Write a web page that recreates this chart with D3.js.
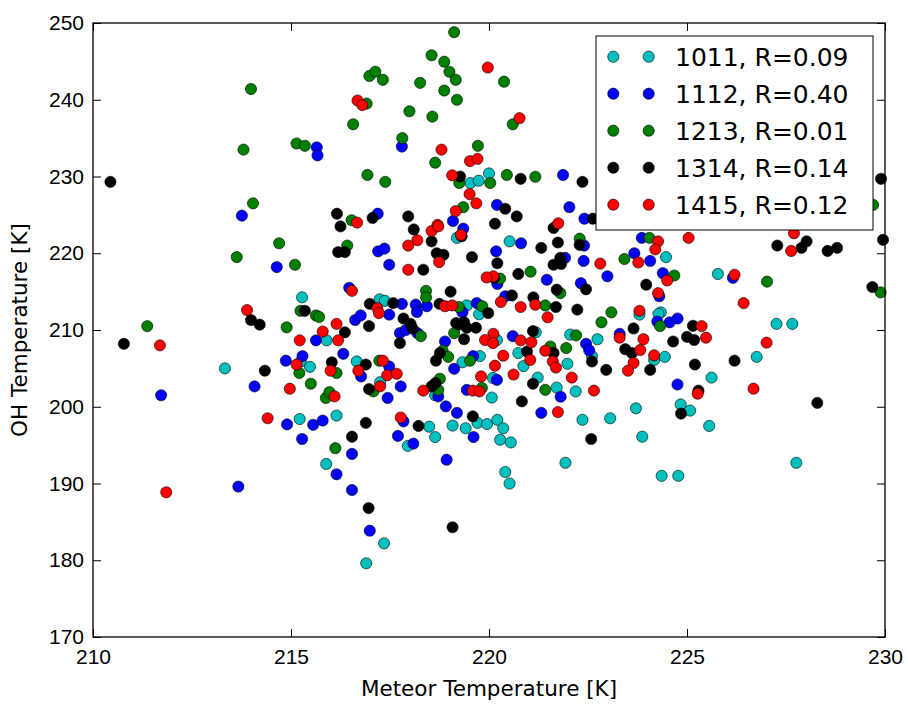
<!DOCTYPE html>
<html>
<head>
<meta charset="utf-8">
<script src="https://cdn.jsdelivr.net/npm/d3@7"></script>
<style>
  body { margin: 0; background: #fff; }
  svg { font-family: "DejaVu Sans", sans-serif; }
</style>
</head>
<body>
<svg class="scatter" width="908" height="704"></svg>
<script>
// Series labels and colours (matplotlib classic c, b, g, k, r)
const seriesNames = ['1011, R=0.09', '1112, R=0.40', '1213, R=0.01', '1314, R=0.14', '1415, R=0.12'];
const seriesColors = ['#00bfbf', '#0000ff', '#008000', '#000000', '#ff0000'];

// [meteor temperature, OH temperature] pairs
const s1011 = [
  [213.33,205.0],[215.28,214.25],[215.9,208.65],[215.89,192.55],[217.35,182.2],[216.9,179.6],
  [217.95,194.9],[218.64,196.05],[218.49,197.4],[219.08,197.55],[219.41,197.2],[219.71,197.9],
  [219.95,197.75],[220.21,198.3],[220.36,197.2],[220.28,195.7],[220.55,195.35],[223.87,196.1],
  [221.93,192.7],[220.41,191.5],[220.52,190.0],[224.36,191.0],[224.78,191.0],[227.76,192.7],
  [225.56,197.5],[225.08,199.5],[225.62,203.8],[226.76,206.5],[227.26,210.8],[227.66,210.8],
  [225.78,217.3],[224.47,219.5],[224.34,212.3],[224.28,212.1],[223.8,212.0],[222.05,209.4],
  [222.74,208.8],[222.6,206.6],[224.17,206.1],[224.44,206.5],[221.98,205.6],[222.19,202.0],
  [221.71,202.5],[221.23,203.8],[222.36,198.3],[223.06,198.5],[223.71,199.8],[224.84,200.3],
  [220.87,205.3],[220.07,201.2],[220.2,208.7],[220.52,221.55],[219.19,222.0],[219.53,229.15],
  [219.74,229.45],[220.0,230.4],[217.24,214.0],[217.37,213.8],[219.44,213.2],[219.75,212.05],
  [219.33,205.8],[219.77,206.6],[220.1,203.75],[218.64,201.5],[216.15,198.85],[215.22,198.4],
  [215.25,205.9],[215.48,205.2],[216.66,205.9],[217.25,203.2],[220.74,207.0],[221.18,209.7]
];
const s1112 = [
  [213.76,224.9],[215.65,233.8],[215.67,232.75],[217.8,233.9],[219.09,224.2],[219.35,223.2],
  [220.2,226.3],[217.19,225.15],[221.87,230.2],[222.03,226.0],[222.41,224.5],[214.64,218.2],
  [214.87,206.0],[214.08,202.65],[211.72,201.5],[214.9,197.7],[213.67,189.6],[215.28,195.8],
  [216.54,193.85],[216.15,191.2],[216.54,189.15],[216.99,183.85],[217.7,196.2],[218.09,195.2],
  [218.93,193.1],[219.61,196.05],[226.16,216.8],[220.81,221.3],[220.18,220.25],[220.21,216.0],
  [221.92,219.4],[221.46,216.55],[222.39,219.0],[222.32,216.1],[222.4,221.0],[222.99,217.0],
  [223.67,220.0],[224.07,219.0],[223.86,222.0],[224.39,217.4],[224.3,214.4],[224.25,211.1],
  [224.56,211.0],[224.76,211.5],[220.41,214.4],[220.6,209.2],[222.45,208.2],[222.53,207.35],
  [223.3,209.5],[221.81,201.3],[221.32,199.2],[224.76,202.9],[220.2,203.5],[217.2,220.25],
  [217.36,220.6],[217.48,218.5],[216.47,215.5],[215.63,208.65],[216.62,211.3],[216.76,211.9],
  [217.48,212.0],[217.8,213.4],[218.15,213.3],[218.18,212.35],[218.43,213.1],[217.75,209.6],
  [217.9,210.0],[218.19,209.6],[219.33,212.3],[219.69,213.5],[218.89,208.5],[219.12,204.95],
  [219.6,206.6],[219.44,202.2],[218.72,201.35],[218.91,200.05],[219.19,199.2],[217.84,198.1],
  [215.8,198.2],[215.56,197.65],[215.29,206.6],[216.77,203.95],[217.48,205.25],[217.44,201.15],
  [217.77,202.65],[216.32,206.9]
];
const s1213 = [
  [213.99,241.4],[213.8,233.5],[215.14,234.3],[215.35,234.0],[214.04,226.5],[219.12,248.8],
  [218.55,245.8],[218.87,244.96],[219.0,243.65],[219.16,242.6],[218.87,241.2],[219.19,240.0],
  [218.26,242.2],[216.98,243.1],[217.13,243.65],[217.32,242.6],[216.91,239.5],[217.99,238.5],
  [218.57,237.8],[216.57,236.8],[217.81,235.0],[219.72,234.0],[218.64,231.8],[219.25,229.15],
  [220.03,229.15],[216.93,230.2],[217.38,229.3],[219.35,226.0],[216.53,224.3],[220.38,242.35],
  [220.6,236.8],[220.45,230.2],[221.17,229.97],[229.7,226.3],[229.89,214.9],[214.7,221.3],
  [213.63,219.5],[215.1,218.5],[214.89,210.35],[211.37,210.5],[216.12,194.6],[227.02,216.3],
  [220.28,216.7],[221.05,217.6],[221.8,214.8],[222.29,221.9],[223.42,219.25],[224.05,222.0],
  [224.68,217.1],[224.32,210.5],[221.42,213.2],[223.09,212.3],[222.84,211.0],[222.2,209.3],
  [221.42,202.2],[221.55,207.85],[221.95,207.65],[216.42,221.0],[215.24,212.5],[215.63,211.9],
  [215.71,211.7],[218.41,215.1],[218.41,214.25],[218.28,209.2],[219.24,213.0],[219.83,213.1],
  [219.12,209.6],[218.83,207.3],[218.97,206.5],[219.52,206.0],[219.82,202.45],[218.76,203.65],
  [218.72,202.2],[215.21,204.4],[216.15,204.4],[215.5,203.0],[215.88,201.15],[215.97,201.9],
  [217.23,206.0],[217.08,202.0]
];
const s1314 = [
  [210.44,229.3],[219.27,230.0],[216.16,225.15],[216.25,223.5],[217.06,224.6],[217.96,224.8],
  [218.1,223.1],[220.15,223.85],[220.8,229.7],[222.36,229.3],[220.41,225.8],[220.7,224.8],
  [222.62,224.5],[221.63,223.3],[229.9,229.7],[213.99,211.3],[214.21,210.7],[210.78,208.2],
  [214.34,204.7],[216.54,196.1],[216.96,186.8],[219.08,184.3],[222.58,195.8],[227.28,221.0],
  [228.02,221.55],[227.89,220.7],[228.55,220.3],[228.79,220.7],[229.95,221.75],[229.68,215.6],
  [226.2,206.0],[228.29,200.5],[225.29,202.1],[225.15,210.55],[225.18,208.7],[225.2,205.5],
  [221.32,220.7],[221.74,221.4],[220.21,218.7],[220.74,217.3],[221.63,218.5],[221.8,219.4],
  [221.82,218.6],[221.71,215.25],[222.45,215.3],[222.29,221.1],[223.97,215.9],[220.58,214.5],
  [221.12,214.25],[221.69,213.0],[222.23,212.65],[223.65,210.2],[221.11,209.85],[222.6,205.9],
  [223.44,207.5],[223.61,207.0],[224.07,204.8],[224.65,208.5],[225.0,209.1],[222.96,204.8],
  [221.11,203.0],[220.83,200.7],[224.85,199.1],[220.96,207.2],[221.63,207.0],[218.55,221.55],
  [219.31,222.2],[218.68,220.0],[218.85,219.8],[219.57,219.5],[216.19,220.15],[216.36,220.15],
  [218.34,217.85],[220.13,216.8],[215.35,212.5],[216.36,209.7],[216.97,210.5],[216.99,213.4],
  [217.58,213.5],[217.84,211.5],[218.02,210.8],[218.07,210.2],[217.75,208.3],[219.03,215.0],
  [218.75,213.4],[219.98,212.2],[219.17,210.9],[219.37,211.0],[219.44,210.3],[219.24,210.7],
  [219.67,210.3],[219.37,208.8],[218.76,207.0],[218.66,206.0],[218.55,202.65],[218.65,203.1],
  [219.59,198.75],[218.22,197.5],[216.89,197.9],[216.03,205.8],[216.89,205.5],[216.97,202.3]
];
const s1415 = [
  [219.97,244.2],[216.68,239.9],[216.8,239.3],[218.8,233.5],[219.52,232.0],[219.71,232.3],
  [219.07,230.15],[219.51,227.7],[219.68,226.5],[219.16,225.5],[216.67,224.0],[218.7,223.7],
  [218.55,222.9],[220.77,237.6],[221.75,223.9],[213.89,212.6],[211.69,208.0],[214.97,202.35],
  [214.41,198.5],[211.85,188.85],[227.7,222.6],[227.63,220.3],[225.04,222.0],[226.2,217.2],
  [226.43,213.5],[227.01,208.35],[226.68,202.35],[225.27,201.7],[225.37,210.5],[225.48,209.0],
  [220.11,217.0],[222.81,218.65],[223.77,218.8],[224.27,221.55],[224.2,220.5],[224.5,216.45],
  [224.27,214.8],[220.3,213.65],[220.8,213.0],[221.17,213.3],[221.48,211.65],[223.8,212.5],
  [220.11,209.5],[220.8,208.65],[221.07,208.4],[223.3,209.0],[223.9,208.8],[223.82,207.4],
  [223.65,205.7],[223.51,204.7],[224.17,206.7],[222.09,203.8],[222.65,202.1],[221.74,199.3],
  [220.62,204.2],[221.04,206.1],[220.36,206.65],[220.15,205.35],[221.42,207.3],[221.61,205.9],
  [221.69,205.1],[218.72,223.5],[218.19,221.7],[217.96,221.0],[219.29,222.4],[218.74,218.85],
  [217.96,217.85],[219.94,216.85],[216.54,215.1],[216.15,210.8],[215.8,209.8],[215.22,208.65],
  [216.19,208.65],[217.18,212.85],[217.22,212.2],[218.89,213.1],[219.07,213.2],[219.9,208.7],
  [220.1,208.3],[219.8,203.95],[219.59,202.1],[219.76,202.0],[218.34,202.1],[217.77,198.6],
  [215.14,205.5],[216.0,204.7],[216.1,201.35],[216.7,204.7],[217.32,206.0],[217.43,204.1],
  [217.67,204.3],[217.25,202.65]
];
const allSeries = [s1011, s1112, s1213, s1314, s1415];

const xTicks = [210, 215, 220, 225, 230];
const yTicks = [170, 180, 190, 200, 210, 220, 230, 240, 250];

const svg = d3.select('.scatter');
const margin = { top: 23, right: 23, bottom: 67, left: 93 };
const width = 908 - margin.left - margin.right;
const height = 704 - margin.top - margin.bottom;

const xScale = d3.scaleLinear().domain([210, 230]).range([0, width]);
const yScale = d3.scaleLinear().domain([170, 250]).range([height, 0]);

const g = svg.append('g')
    .attr('transform', `translate(${margin.left}, ${margin.top})`);

// points, series drawn in order so later ones sit on top
allSeries.forEach((pts, i) => {
    g.append('g').selectAll('circle')
        .data(pts)
        .join('circle')
        .attr('cx', d => xScale(d[0]))
        .attr('cy', d => yScale(d[1]))
        .attr('r', 5.6)
        .attr('fill', seriesColors[i])
        .attr('stroke', '#000')
        .attr('stroke-width', 0.6);
});

// axes, ticks pointing inwards on all four sides
function styleAxis(sel, showText) {
    sel.select('.domain').remove();
    sel.selectAll('line').attr('stroke', '#000').attr('stroke-width', 1);
    sel.selectAll('text')
        .attr('fill', '#000')
        .style('font-size', '21px')
        .style('display', showText ? null : 'none');
}

g.append('g')
    .attr('transform', `translate(0, ${height})`)
    .call(d3.axisBottom(xScale).tickValues(xTicks).tickSize(-8).tickPadding(12).tickFormat(d3.format('d')))
    .call(s => styleAxis(s, true));
g.append('g')
    .call(d3.axisTop(xScale).tickValues(xTicks).tickSize(-8))
    .call(s => styleAxis(s, false));
g.append('g')
    .call(d3.axisLeft(yScale).tickValues(yTicks).tickSize(-8).tickPadding(9).tickFormat(d3.format('d')))
    .call(s => styleAxis(s, true));
g.append('g')
    .attr('transform', `translate(${width}, 0)`)
    .call(d3.axisRight(yScale).tickValues(yTicks).tickSize(-8))
    .call(s => styleAxis(s, false));

// frame
g.append('rect')
    .attr('width', width)
    .attr('height', height)
    .attr('fill', 'none')
    .attr('stroke', '#000')
    .attr('stroke-width', 1.3);

// axis labels
svg.append('text')
    .attr('x', margin.left + width / 2)
    .attr('y', 696)
    .attr('text-anchor', 'middle')
    .style('font-size', '21.5px')
    .text('Meteor Temperature [K]');
svg.append('text')
    .attr('transform', `translate(27, ${margin.top + height / 2}) rotate(-90)`)
    .attr('text-anchor', 'middle')
    .style('font-size', '21.5px')
    .text('OH Temperature [K]');

// legend
const legend = svg.append('g').attr('transform', 'translate(596, 36)');
legend.append('rect')
    .attr('width', 277)
    .attr('height', 194)
    .attr('fill', '#fff')
    .attr('stroke', '#000')
    .attr('stroke-width', 1);
seriesNames.forEach((name, i) => {
    const row = legend.append('g').attr('transform', `translate(0, ${20.7 + i * 37})`);
    [17.3, 52.7].forEach(cx => {
        row.append('circle')
            .attr('cx', cx)
            .attr('r', 5.6)
            .attr('fill', seriesColors[i])
            .attr('stroke', '#000')
            .attr('stroke-width', 0.6);
    });
    row.append('text')
        .attr('x', 79)
        .attr('y', 9)
        .style('font-size', '25px')
        .text(name);
});
</script>
</body>
</html>
